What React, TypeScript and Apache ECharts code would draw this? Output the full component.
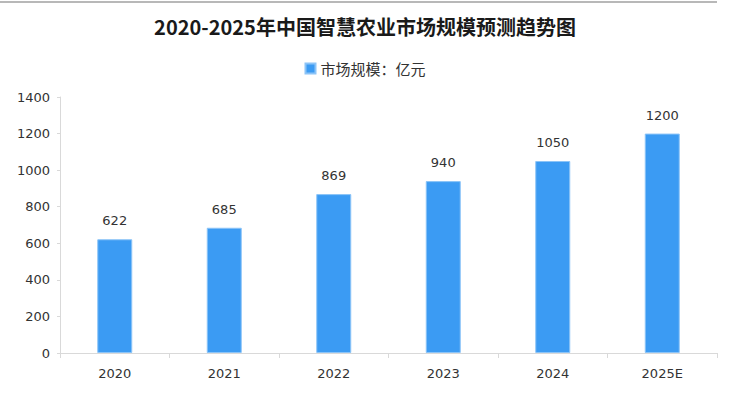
import React, { useEffect, useRef } from "react";
import * as echarts from "echarts";

const categories = ["2020", "2021", "2022", "2023", "2024", "2025E"];
const marketSize = [622, 685, 869, 940, 1050, 1200];
const titleText = "2020-2025年中国智慧农业市场规模预测趋势图";
const seriesName = "市场规模：亿元";

export default function App() {
  const ref = useRef<HTMLDivElement>(null);
  useEffect(() => {
    const chart = echarts.init(ref.current!, null, { renderer: "svg" });
    chart.setOption({
      animation: false,
      backgroundColor: "#ffffff",
      title: {
        text: titleText,
        left: "center",
        top: 11,
        textStyle: {
          fontFamily: "Noto Sans CJK SC",
          fontSize: 20,
          fontWeight: "bold",
          color: "#1a1a1a",
        },
      },
      legend: {
        top: 56,
        left: "center",
        itemWidth: 10,
        itemHeight: 10,
        itemGap: 10,
        icon: "rect",
        textStyle: { fontFamily: "Noto Sans CJK SC", fontSize: 15, color: "#333" },
        data: [seriesName],
      },
      graphic: [
        {
          type: "line",
          shape: { x1: 0, y1: 2, x2: 717, y2: 2 },
          style: { stroke: "#a0a0a0", lineWidth: 1.5 },
        },
      ],
      grid: { left: 60, right: 13, top: 97, bottom: 40 },
      xAxis: {
        type: "category",
        data: categories,
        axisLine: { lineStyle: { color: "#d9d9d9" } },
        axisTick: { show: true, length: 5, lineStyle: { color: "#d9d9d9" } },
        axisLabel: {
          margin: 14,
          fontSize: 13,
          color: "#333",
          fontFamily: "DejaVu Sans",
        },
      },
      yAxis: {
        type: "value",
        min: 0,
        max: 1400,
        interval: 200,
        axisLine: { show: true, lineStyle: { color: "#d9d9d9" } },
        axisTick: { show: true, length: 3, lineStyle: { color: "#d9d9d9" } },
        splitLine: { show: false },
        axisLabel: {
          margin: 10,
          fontSize: 13,
          color: "#333",
          fontFamily: "DejaVu Sans",
          formatter: (v: number) => String(v),
        },
      },
      series: [
        {
          name: seriesName,
          type: "bar",
          data: marketSize,
          barWidth: 35,
          itemStyle: { color: "#3b9bf3", borderColor: "#8cc4f7", borderWidth: 1 },
          label: {
            show: true,
            position: "top",
            distance: 12,
            fontSize: 13,
            color: "#333",
            fontFamily: "DejaVu Sans",
          },
        },
      ],
    });
    return () => chart.dispose();
  }, []);
  return (
    <div
      ref={ref}
      style={{ position: "fixed", left: 0, top: 0, width: 730, height: 393 }}
    />
  );
}
